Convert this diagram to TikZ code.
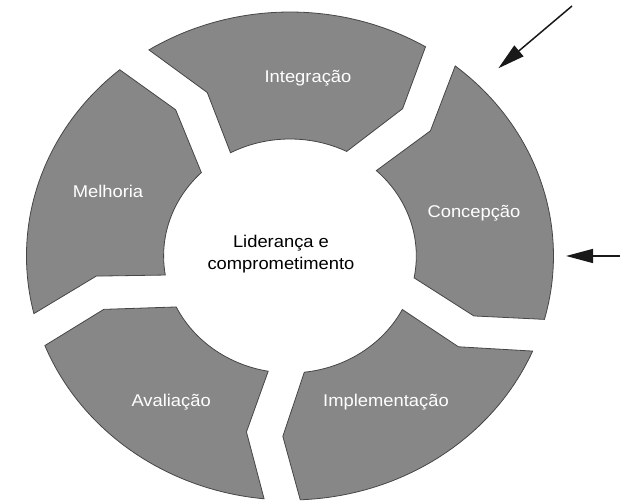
\documentclass[tikz,border=0pt]{standalone}
\usepackage{fontspec}
\setmainfont{Liberation Sans}
\usetikzlibrary{arrows.meta}
\definecolor{segfill}{RGB}{135,135,135}
\definecolor{segline}{RGB}{70,70,70}
\tikzset{
  segment/.style={fill=segfill, draw=segline, line width=0.8pt, line join=miter},
  seglabel/.style={text=white, font=\fontsize{17}{22}\selectfont, transform shape},
  centrelabel/.style={text=black, font=\fontsize{17}{22.3}\selectfont, align=center, transform shape},
  inarrow/.style={line width=1.5pt, draw=black!90, -{Triangle[length=27pt,width=14pt]}}
}
% one ring piece: notched end at angle #1, pointed end at angle #2
\newcommand\ringseg[2]{%
  \draw[segment] (#1-3.94:244) arc[start angle=#1-3.94, end angle=#2+3.94, radius=244]
    -- (#2-0.4:180.5) -- (#2+8.23:117)
    arc[start angle=#2+8.23, end angle=#1-8.23, radius=117]
    -- (#1-11.2:180.5) -- cycle;}

\begin{document}
\begin{tikzpicture}[x=1pt, y=1pt, xscale=1.08]
\useasboundingbox (-268.5,-247) rectangle (305.6,256);

\ringseg{197.6}{126.3} \node[seglabel] (melhoria) at (-168.5,64.3) {Melhoria};
\ringseg{126.3}{55.1} \node[seglabel] (integracao) at (16.7,177.7) {Integração};
\ringseg{55.1}{-19} \node[seglabel] (concepcao) at (170.4,42.7) {Concepção};
\ringseg{-19}{-91.7} \node[seglabel] (implementacao) at (88.9,-146.3) {Implementação};
\ringseg{-91.7}{-162.4} \node[seglabel] (avaliacao) at (-110,-146.3) {Avaliação};

\node[centrelabel] (lideranca) at (-8.3,2.1) {Liderança e\\comprometimento};

\coordinate (topfrom) at (261.1,250); \coordinate (topto) at (192.9,187.7);
\coordinate (sidefrom) at (305.6,0); \coordinate (sideto) at (255.6,0);
\draw[inarrow] (topfrom) -- (topto);
\draw[inarrow] (sidefrom) -- (sideto);
\end{tikzpicture}
\end{document}
